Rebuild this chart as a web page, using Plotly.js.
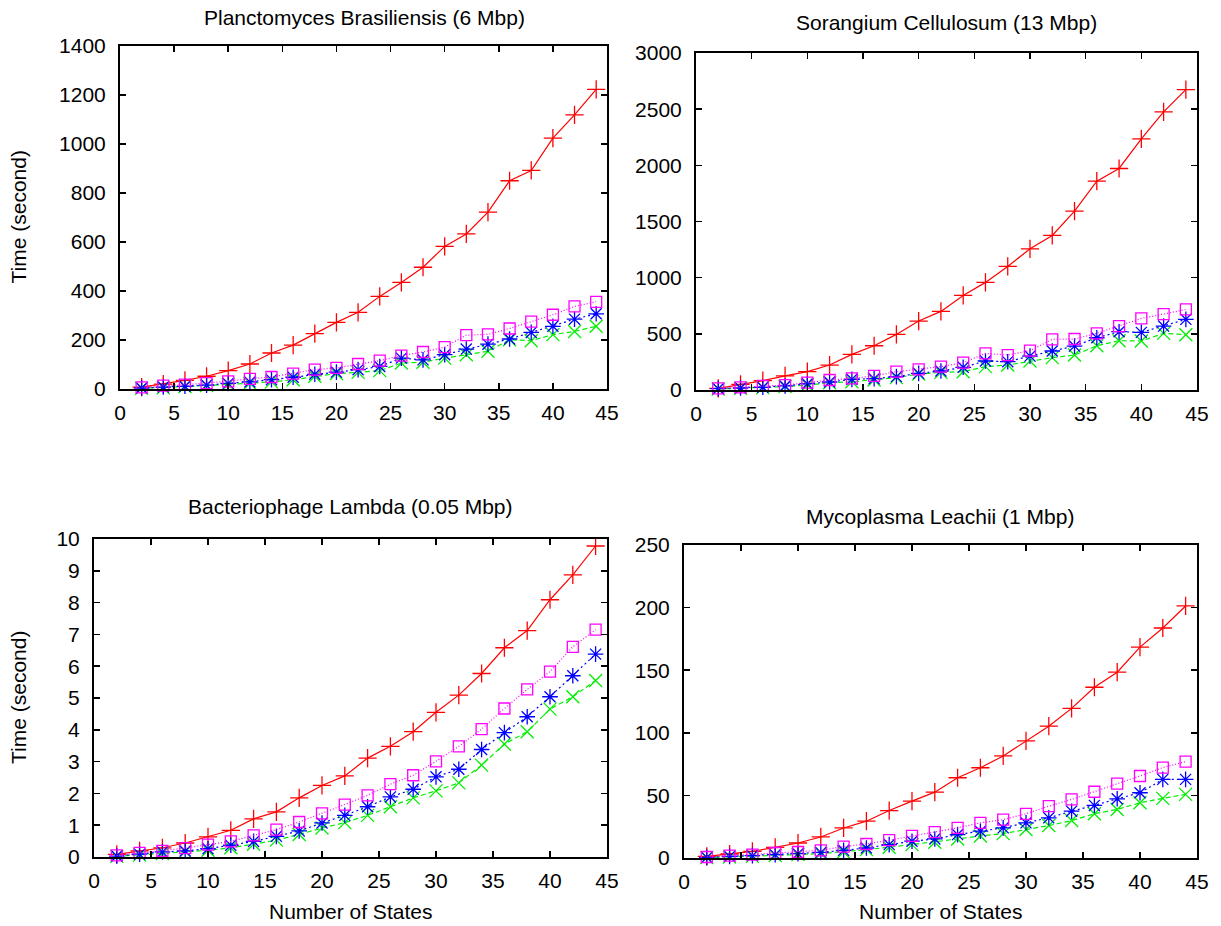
<!DOCTYPE html>
<html>
<head>
<meta charset="utf-8">
<script src="https://cdn.plot.ly/plotly-3.0.1.min.js"></script>
<style>html,body{margin:0;padding:0;background:#fff;}#chart{width:1221px;height:926px;}</style>
</head>
<body>
<div id="chart"></div>
<script>
// ---- Data ----
const states = [2,4,6,8,10,12,14,16,18,20,22,24,26,28,30,32,34,36,38,40,42,44];

const titles = [
  "Planctomyces Brasiliensis (6 Mbp)",
  "Sorangium Cellulosum (13 Mbp)",
  "Bacteriophage Lambda (0.05 Mbp)",
  "Mycoplasma Leachii (1 Mbp)"
];

// Planctomyces Brasiliensis
const planctoRed     = [8,20,35,52,75,102,147,179,226,272,313,378,435,497,582,633,722,850,892,1024,1119,1223];
const planctoGreen   = [3,5,10,14,19,23,29,38,52,63,68,75,106,109,126,140,154,201,197,222,235,256];
const planctoBlue    = [4,8,11,16,23,29,38,48,60,69,79,92,126,119,140,163,183,204,231,256,285,307];
const planctoMagenta = [7,14,18,24,31,41,49,63,79,86,102,116,136,151,171,220,223,247,275,303,337,356];

// Sorangium Cellulosum
const sorangRed     = [15,50,83,125,163,222,317,394,495,614,700,842,958,1100,1257,1376,1592,1859,1972,2235,2476,2674];
const sorangGreen   = [9,15,21,30,44,65,74,89,110,142,157,163,208,222,258,288,311,394,439,436,504,492];
const sorangBlue    = [12,18,24,36,56,71,95,101,119,148,169,202,258,252,302,347,391,465,519,513,569,629];
const sorangMagenta = [15,24,36,44,65,89,104,125,163,184,208,243,326,311,350,451,454,504,569,637,676,717];

// Bacteriophage Lambda
const lambdaRed     = [0.08,0.19,0.29,0.44,0.63,0.84,1.20,1.42,1.86,2.25,2.55,3.11,3.48,3.94,4.55,5.09,5.77,6.58,7.12,8.09,8.87,9.78];
const lambdaGreen   = [0.02,0.06,0.11,0.16,0.21,0.29,0.40,0.53,0.71,0.91,1.08,1.31,1.58,1.86,2.08,2.33,2.89,3.55,3.94,4.65,5.04,5.55];
const lambdaBlue    = [0.03,0.09,0.16,0.19,0.26,0.37,0.49,0.65,0.82,1.07,1.31,1.58,1.89,2.13,2.52,2.76,3.38,3.91,4.41,5.04,5.70,6.38];
const lambdaMagenta = [0.05,0.13,0.19,0.28,0.39,0.49,0.68,0.86,1.10,1.37,1.65,1.94,2.29,2.57,3.01,3.48,4.02,4.67,5.27,5.83,6.61,7.15];

// Mycoplasma Leachii
const mycoRed     = [1.3,3.2,5.3,8.5,12.0,16.8,24.0,29.4,37.9,45.4,52.6,64.1,72.1,81.5,93.5,105.3,119.5,136.4,148.4,168.4,183.7,201.3];
const mycoGreen   = [0.3,0.8,1.3,1.9,2.7,3.5,4.8,6.7,8.6,10.7,12.6,15.2,17.6,19.5,22.7,25.9,29.9,35.3,38.8,44.1,47.6,50.8];
const mycoBlue    = [0.5,1.3,1.9,2.7,3.5,4.5,6.1,8.0,10.7,13.4,15.2,18.7,21.4,24.1,28.1,32.1,37.4,42.0,47.3,52.1,62.8,62.8];
const mycoMagenta = [0.8,1.9,2.7,4.0,4.8,6.1,9.1,11.2,14.2,17.6,20.6,24.1,28.1,30.7,35.3,41.4,46.8,52.9,59.4,65.5,72.2,77.0];

const yRanges = [[0,1400],[0,3000],[0,10],[0,250]];
const yDticks = [200,500,1,50];
const xTickVals = [0,5,10,15,20,25,30,35,40,45];

// ---- Styles ----
const styles = [
  {color:'#ff0000', dash:'solid',      symbol:'cross-thin-open', size:13},
  {color:'#00ee00', dash:'5px,3px',    symbol:'x-thin-open',     size:13},
  {color:'#0000ff', dash:'2px,3px',    symbol:'asterisk-open',   size:13},
  {color:'#ff00ff', dash:'1px,2px',    symbol:'square-open',     size:11}
];

const panels = [
  [planctoRed, planctoGreen, planctoBlue, planctoMagenta],
  [sorangRed, sorangGreen, sorangBlue, sorangMagenta],
  [lambdaRed, lambdaGreen, lambdaBlue, lambdaMagenta],
  [mycoRed, mycoGreen, mycoBlue, mycoMagenta]
];

const W = 1221, H = 926;
// pixel boxes [left, right, top, bottom]
const boxes = [
  [120, 607, 46, 389],
  [696, 1197, 53, 390],
  [94, 607, 539, 857],
  [684, 1197, 545, 858]
];
const titlePos = [[364, 17], [946, 22], [350, 507], [940, 516]];

const FONT = 'Liberation Sans, Arial, Helvetica, sans-serif';
const FS = 21;
const data = [];
const layout = {
  width: W, height: H,
  margin: {l:0, r:0, t:0, b:0},
  paper_bgcolor: '#ffffff',
  plot_bgcolor: '#ffffff',
  showlegend: false,
  font: {family: FONT, size: FS, color: '#000000'},
  annotations: []
};

panels.forEach((series, i) => {
  const n = i + 1;
  const xa = n === 1 ? 'x' : 'x' + n;
  const ya = n === 1 ? 'y' : 'y' + n;
  series.forEach((ys, k) => {
    const s = styles[k];
    data.push({
      x: states, y: ys, xaxis: xa, yaxis: ya,
      type: 'scatter', mode: 'lines+markers', cliponaxis: false,
      line: {color: s.color, width: 1.2, dash: s.dash},
      marker: {symbol: s.symbol, size: s.size, color: s.color, line: {color: s.color, width: 1.3}}
    });
  });
  const b = boxes[i];
  const axBase = {
    showline: true, linecolor: '#000000', linewidth: 2, mirror: 'ticks',
    ticks: 'inside', ticklen: 6, tickwidth: 1.5, tickcolor: '#000000',
    showgrid: false, zeroline: false, fixedrange: true,
    tickfont: {family: FONT, size: FS, color: '#000000'}
  };
  layout['xaxis' + (n === 1 ? '' : n)] = Object.assign({}, axBase, {
    domain: [b[0] / W, b[1] / W], anchor: ya,
    range: [0, 45], tickmode: 'array', tickvals: xTickVals, ticklabelstandoff: 4
  });
  layout['yaxis' + (n === 1 ? '' : n)] = Object.assign({}, axBase, {
    domain: [1 - b[3] / H, 1 - b[2] / H], anchor: xa,
    range: yRanges[i], dtick: yDticks[i], tick0: 0, ticklabelstandoff: 8
  });
  layout.annotations.push({
    text: titles[i], xref: 'paper', yref: 'paper',
    x: titlePos[i][0] / W, y: 1 - titlePos[i][1] / H,
    xanchor: 'center', yanchor: 'middle', showarrow: false,
    font: {family: FONT, size: FS, color: '#000000'}
  });
});

// axis titles
[[18, (46 + 389) / 2], [18, (539 + 857) / 2]].forEach(p => {
  layout.annotations.push({
    text: 'Time (second)', xref: 'paper', yref: 'paper',
    x: p[0] / W, y: 1 - p[1] / H, xanchor: 'center', yanchor: 'middle',
    textangle: -90, showarrow: false,
    font: {family: FONT, size: FS, color: '#000000'}
  });
});
[[350, 911], [940, 911]].forEach(p => {
  layout.annotations.push({
    text: 'Number of States', xref: 'paper', yref: 'paper',
    x: p[0] / W, y: 1 - p[1] / H, xanchor: 'center', yanchor: 'middle',
    showarrow: false,
    font: {family: FONT, size: FS, color: '#000000'}
  });
});

Plotly.newPlot('chart', data, layout, {staticPlot: true, displayModeBar: false});
</script>
</body>
</html>
